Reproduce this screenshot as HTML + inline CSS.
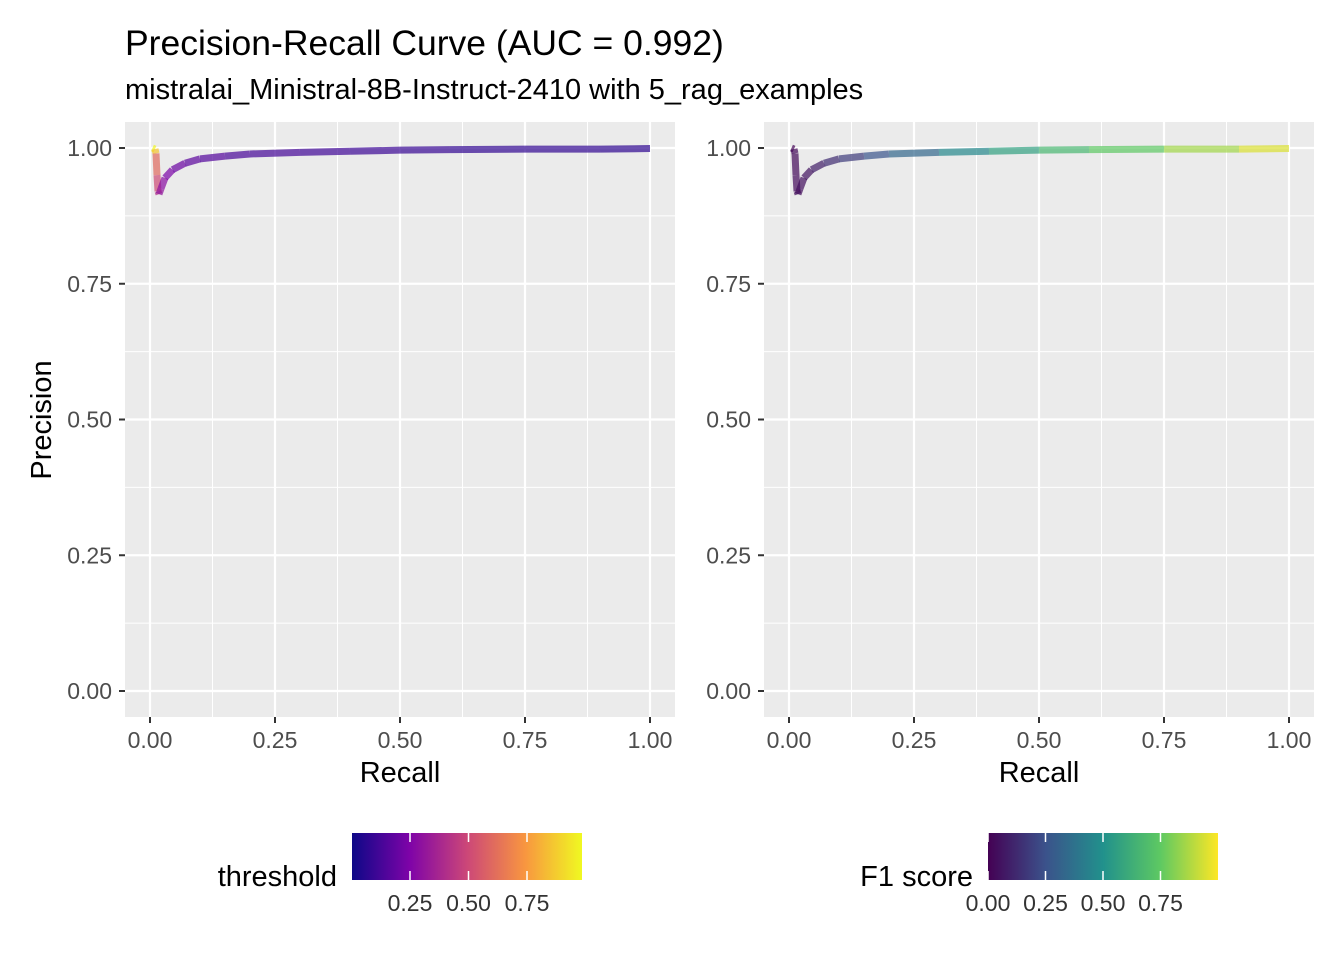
<!DOCTYPE html>
<html><head><meta charset="utf-8"><style>
body{margin:0;background:#fff;font-family:"Liberation Sans",Arial,sans-serif}
svg text{font-family:"Liberation Sans",Arial,sans-serif}
</style></head><body>
<svg id="c" width="1344" height="960" xmlns="http://www.w3.org/2000/svg">
<defs>
<linearGradient id="plasma" x1="0" x2="1" y1="0" y2="0">
<stop offset="0" stop-color="#0d0887"/><stop offset="0.25" stop-color="#7e03a8"/><stop offset="0.5" stop-color="#cc4778"/><stop offset="0.75" stop-color="#f89540"/><stop offset="1" stop-color="#f0f921"/>
</linearGradient>
<linearGradient id="viridis" x1="0" x2="1" y1="0" y2="0">
<stop offset="0" stop-color="#440154"/><stop offset="0.25" stop-color="#3b528b"/><stop offset="0.5" stop-color="#21918c"/><stop offset="0.75" stop-color="#5ec962"/><stop offset="1" stop-color="#fde725"/>
</linearGradient>
</defs>
<text x="125" y="55" font-size="35.5" fill="#000">Precision-Recall Curve (AUC = 0.992)</text>
<text x="125" y="99" font-size="29" fill="#000">mistralai_Ministral-8B-Instruct-2410 with 5_rag_examples</text>
<text transform="translate(51,420) rotate(-90)" text-anchor="middle" font-size="29">Precision</text>
<g id="p1"></g>
<g id="p2"></g>
<text x="337" y="886" text-anchor="end" font-size="29">threshold</text>
<rect x="352" y="833" width="230" height="47" fill="url(#plasma)"/>
<text x="973" y="886" text-anchor="end" font-size="29">F1 score</text>
<rect x="988" y="833" width="230" height="47" fill="url(#viridis)"/>
<g id="leg"></g>
</svg>
<script>
const recall=[0.005,0.01,0.012,0.014,0.016,0.018,0.022,0.03,0.045,0.07,0.1,0.15,0.2,0.3,0.4,0.5,0.6,0.75,0.9,1.0];
const precision=[1.0,0.998,0.99,0.95,0.92,0.915,0.925,0.945,0.96,0.972,0.98,0.985,0.989,0.992,0.994,0.996,0.997,0.998,0.998,0.999];
const threshold=[0.97,0.85,0.6,0.5,0.4,0.3,0.28,0.24,0.2,0.17,0.15,0.13,0.12,0.11,0.1,0.09,0.08,0.08,0.07,0.07];
const xTicks=[0,0.25,0.5,0.75,1.0];
const xTickLabels=["0.00","0.25","0.50","0.75","1.00"];
const yTickLabels=["0.00","0.25","0.50","0.75","1.00"];
const legTicks=[0.25,0.5,0.75];
const f1Ticks=[0,0.25,0.5,0.75];
const NS="http://www.w3.org/2000/svg";
const plasma=["#0d0887","#7e03a8","#cc4778","#f89540","#f0f921"];
const viridis=["#440154","#3b528b","#21918c","#5ec962","#fde725"];
function interp(cs,t){t=Math.max(0,Math.min(1,t));const s=t*(cs.length-1),i=Math.min(cs.length-2,Math.floor(s)),f=s-i;
const a=cs[i],b=cs[i+1];const p=k=>parseInt(a.substr(k,2),16)*(1-f)+parseInt(b.substr(k,2),16)*f;
return `rgb(${p(1)|0},${p(3)|0},${p(5)|0})`;}
function mk(tag,attrs,parent){const e=document.createElementNS(NS,tag);for(const k in attrs)e.setAttribute(k,attrs[k]);parent.appendChild(e);return e;}
function panel(g,x0,colorFn){
 const px=x0,pw=550,py=122,ph=595;
 const sx=v=>x0+25+v*500, sy=v=>691-v*543;
 let r=mk('rect',{x:px,y:py,width:pw,height:ph,fill:'#ebebeb'},g);
 
 for(let i=0;i<4;i++){const v=0.125+i*0.25;
  mk('line',{x1:sx(v),x2:sx(v),y1:py,y2:py+ph,stroke:'#fff','stroke-width':1},g);
  mk('line',{x1:px,x2:px+pw,y1:sy(v),y2:sy(v),stroke:'#fff','stroke-width':1},g);}
 xTicks.forEach((v,i)=>{
  mk('line',{x1:sx(v),x2:sx(v),y1:py,y2:py+ph,stroke:'#fff','stroke-width':2.2},g);
  mk('line',{x1:px,x2:px+pw,y1:sy(v),y2:sy(v),stroke:'#fff','stroke-width':2.2},g);
  mk('line',{x1:sx(v),x2:sx(v),y1:py+ph,y2:py+ph+6,stroke:'#333','stroke-width':2},g);
  mk('line',{x1:px-6,x2:px,y1:sy(v),y2:sy(v),stroke:'#333','stroke-width':2},g);
  let t=mk('text',{x:sx(v),y:748,'text-anchor':'middle','font-size':23,fill:'#4d4d4d'},g);t.textContent=xTickLabels[i];
  
  let u=mk('text',{x:px-13,y:sy(v)+8,'text-anchor':'end','font-size':23,fill:'#4d4d4d'},g);u.textContent=yTickLabels[i];
  
 });
 let xl=mk('text',{x:px+pw/2,y:782,'text-anchor':'middle','font-size':29},g);xl.textContent='Recall';
 
 for(let i=0;i<recall.length-1;i++){
  const l=mk('line',{x1:sx(recall[i]),y1:sy(precision[i]),x2:sx(recall[i+1]),y2:sy(precision[i+1]),stroke:colorFn(i),'stroke-width':7,'stroke-linecap':'butt','stroke-opacity':0.7},g);
  
  
 }
}
panel(document.getElementById('p1'),125,i=>interp(plasma,threshold[i]/0.98));
panel(document.getElementById('p2'),764,i=>{const p=precision[i],r=recall[i];return interp(viridis,2*p*r/(p+r));});
const leg=document.getElementById('leg');
legTicks.forEach(v=>{const x=351.5+v*234;
 mk('line',{x1:x,x2:x,y1:833,y2:842,stroke:'#fff','stroke-width':1.5},leg);mk('line',{x1:x,x2:x,y1:871,y2:880,stroke:'#fff','stroke-width':1.5},leg);
 const t=mk('text',{x:x,y:911,'text-anchor':'middle','font-size':23,fill:'#333'},leg);t.textContent=v.toFixed(2);
 });
f1Ticks.forEach(v=>{const x=988+v*230;
 mk('line',{x1:x,x2:x,y1:833,y2:842,stroke:'#fff','stroke-width':1.5},leg);mk('line',{x1:x,x2:x,y1:871,y2:880,stroke:'#fff','stroke-width':1.5},leg);
 const t=mk('text',{x:x,y:911,'text-anchor':'middle','font-size':23,fill:'#333'},leg);t.textContent=v.toFixed(2);
 });
</script>
</body></html>
